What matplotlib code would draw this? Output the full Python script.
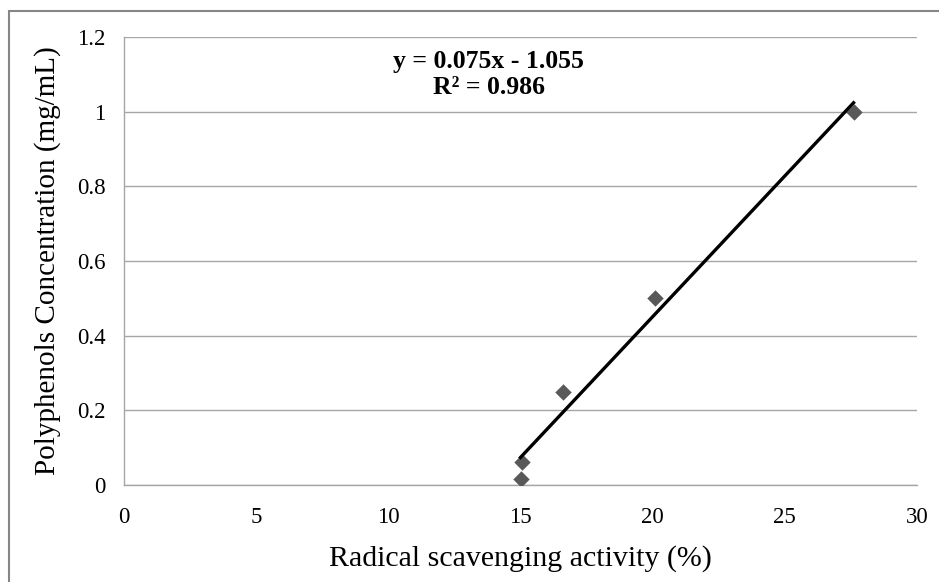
import matplotlib
matplotlib.use("Agg")
import matplotlib.pyplot as plt
import numpy as np
from matplotlib.patches import Rectangle

activity = [15.0, 15.05, 16.6, 20.1, 27.6]
concentration = [0.0156, 0.0625, 0.25, 0.5, 1.0]
x_ticks = [0, 5, 10, 15, 20, 25, 30]
y_ticks = [0, 0.2, 0.4, 0.6, 0.8, 1.0, 1.2]
y_tick_labels = ["0", "0.2", "0.4", "0.6", "0.8", "1", "1.2"]
equation_text = "y = 0.075x - 1.055\nR\u00b2 = 0.986"

plt.rcParams['font.family'] = ['Liberation Serif', 'DejaVu Serif']

W, H = 939, 582
fig = plt.figure(figsize=(W / 100, H / 100), dpi=100)
ax = fig.add_axes([124 / W, 1 - 485 / H, (917 - 124) / W, (485 - 37) / H])

# outer chart border
fig.patches.append(Rectangle((9 / W, -0.05), 1.1, 1 - 11 / H + 0.05,
                             transform=fig.transFigure, fill=False,
                             edgecolor='#868686', linewidth=1.5))

ax.scatter(activity, concentration, marker='D', s=70, color='#595959', zorder=3,
           linewidths=0)
coef = np.polyfit(activity, concentration, 1)
xs = np.array([min(activity), max(activity)])
ax.plot(xs, np.polyval(coef, xs), color='black', linewidth=2.4, zorder=4)

ax.set_xlim(0, 30)
ax.set_ylim(0, 1.2)
ax.set_xticks(x_ticks)
ax.set_yticks(y_ticks)
ax.set_yticklabels(y_tick_labels)
ax.tick_params(length=0, labelsize=16.5)
ax.tick_params(axis='y', pad=13.5)
ax.tick_params(axis='x', pad=16)
ax.grid(axis='y', color='#a6a6a6', linewidth=1)
ax.set_axisbelow(True)
for s in ['top', 'right']:
    ax.spines[s].set_visible(False)
for s in ['left', 'bottom']:
    ax.spines[s].set_color('#a6a6a6')
    ax.spines[s].set_linewidth(1)

ax.set_xlabel("Radical scavenging activity (%)", fontsize=21.5, labelpad=12)
ax.set_ylabel("Polyphenols Concentration (mg/mL)", fontsize=21, labelpad=11)

ax.text(13.8, 1.10, equation_text, fontsize=18.5, fontweight='bold',
        ha='center', va='center', linespacing=1.15)

fig.savefig("out.png", dpi=100)
